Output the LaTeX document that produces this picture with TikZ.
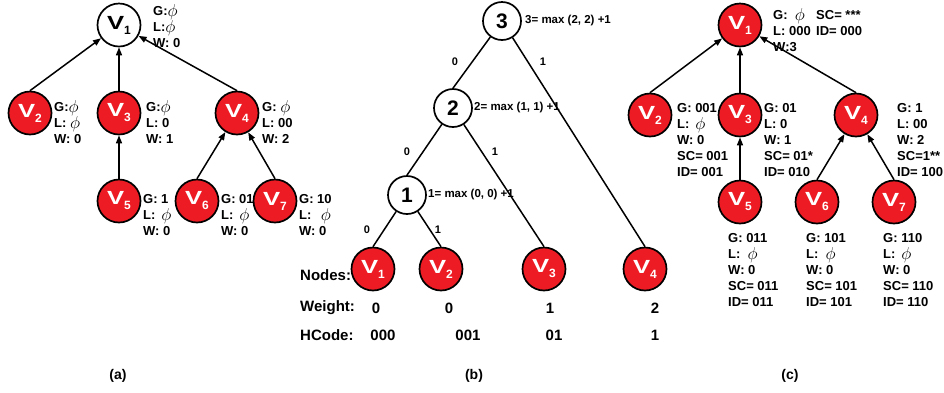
\documentclass[tikz,border=0pt]{standalone}
\usepackage{graphicx}
\usepackage{fontspec}
\setmainfont{Liberation Sans}
\usetikzlibrary{arrows.meta}
\definecolor{vred}{RGB}{237,28,36}
\newcommand{\vn}[1]{\scalebox{1.35}[1]{V}\raisebox{-5pt}{\fontsize{12}{12}\selectfont #1}}
\newcommand{\ph}{\smash{\raisebox{-1pt}{\fontsize{17}{17}\selectfont$\phi$}}}
\begin{document}
\begin{tikzpicture}[x=1pt, y=-1pt,
    vtx/.style={circle, draw, line width=1.7pt, minimum size=43pt, inner sep=0pt, fill=vred, text=white, font=\fontsize{19}{19}\selectfont\bfseries},
    root/.style={vtx, fill=white, text=black},
    num/.style={circle, draw, line width=1.7pt, minimum size=38pt, inner sep=0pt, font=\fontsize{21}{21}\selectfont\bfseries},
    info/.style={anchor=west, align=left, inner sep=0pt, font=\fontsize{13}{16}\selectfont\bfseries},
    eq/.style={anchor=west, inner sep=0pt, font=\fontsize{11.5}{12}\selectfont\bfseries},
    bit/.style={inner sep=0pt, font=\fontsize{11}{11}\selectfont\bfseries},
    row/.style={inner sep=0pt, font=\fontsize{15}{15}\selectfont\bfseries},
    subcap/.style={inner sep=0pt, font=\fontsize{14}{14}\selectfont\bfseries},
    arr/.style={-{Triangle[length=8pt,width=6pt]}, line width=1.5pt},
    tline/.style={line width=1.5pt}]
\useasboundingbox (0,0) rectangle (944,392);
% (a)
\node[root] (a1) at (119,25) {\vn{1}};
\foreach \i/\x/\y in {2/30/113, 3/119/113, 4/237/113, 5/119/201, 6/197/201, 7/275/201}{
    \node[vtx] (a\i) at (\x,\y) {\vn{\i}};
}
\foreach \c/\p in {2/1, 3/1, 4/1, 5/3, 6/4, 7/4}{
    \draw[arr] (a\c.north) -- (a\p);
}
\node[info] (ia1) at (153,27) {G:\ph\\L:\ph\\W: 0};
\node[info] (ia2) at (54,123) {G:\ph\\L: \ph\\W: 0};
\node[info] (ia3) at (146,123) {G:\ph\\L: 0\\W: 1};
\node[info] (ia4) at (262,123) {G: \ph\\L: 00\\W: 2};
\node[info] (ia5) at (143,215) {G: 1\\L: \,\ph\\W: 0};
\node[info] (ia6) at (221,215) {G: 01\\L: \,\ph\\W: 0};
\node[info] (ia7) at (299,215) {G: 10\\L: \ \,\ph\\W: 0};
\node[subcap] (sa) at (118,376) {(a)};
% (b)
\node[row, anchor=west] (nodes) at (300,275) {Nodes:};
\node[row, anchor=west] (weight) at (300,308) {Weight:};
\node[row, anchor=west] (hcode) at (300,335) {HCode:};
\node[num] (b3) at (502,21) {3};
\node[num] (b2) at (453,108) {2};
\node[num] (b1) at (407,195) {1};
\foreach \i/\x in {1/373, 2/441, 3/544, 4/645}{
    \node[vtx] (v\i) at (\x,269) {\vn{\i}};
}
\draw[tline] (b3) -- (b2.north);
\draw[tline] (b3) -- (v4.north);
\draw[tline] (b2) -- (b1.north);
\draw[tline] (b2) -- (v3.north);
\draw[tline] (b1) -- (v1.north);
\draw[tline] (b1) -- (v2.north);
\node[eq] (e3) at (525,21) {3= max (2, 2) +1};
\node[eq] (e2) at (474,108) {2= max (1, 1) +1};
\node[eq] (e1) at (428,195) {1= max (0, 0) +1};
\node[bit] (l32) at (455,62) {0};
\node[bit] (l34) at (543,62) {1};
\node[bit] (l21) at (407,152) {0};
\node[bit] (l23) at (495,152) {1};
\node[bit] (l1a) at (367,230) {0};
\node[bit] (l1b) at (438,230) {1};
\foreach \x/\w [count=\k] in {376/0, 449/0, 550/1, 655/2}{
    \node[row] (w\k) at (\x,308) {\w};
}
\foreach \x/\h [count=\k] in {383/000, 468/001, 554/01, 655/1}{
    \node[row] (h\k) at (\x,335) {\h};
}
\node[subcap] (sb) at (474,376) {(b)};
% (c)
\foreach \i/\x/\y in {1/740/25, 2/650/115, 3/740/115, 4/856/115, 5/740/202, 6/817/202, 7/894/202}{
    \node[vtx] (c\i) at (\x,\y) {\vn{\i}};
}
\foreach \c/\p in {2/1, 3/1, 4/1, 5/3, 6/4, 7/4}{
    \draw[arr] (c\c.north) -- (c\p);
}
\node[info] (ic1) at (773,31) {G: \ \ph\\L: 000\\W:3};
\node[info] (sc1) at (816,23) {SC= ***\\ID= 000};
\node[info] (ic2) at (677,140) {G: 001\\L: \,\ph\\W: 0\\SC= 001\\ID= 001};
\node[info] (ic3) at (764,140) {G: 01\\L: 0\\W: 1\\SC= 01*\\ID= 010};
\node[info] (ic4) at (897,140) {G: 1\\L: 00\\W: 2\\SC=1**\\ID= 100};
\node[info] (ic5) at (728,270) {G: 011\\L: \ \ph\\W: 0\\SC= 011\\ID= 011};
\node[info] (ic6) at (806,270) {G: 101\\L: \ \ph\\W: 0\\SC= 101\\ID= 101};
\node[info] (ic7) at (883,270) {G: 110\\L: \,\ph\\W: 0\\SC= 110\\ID= 110};
\node[subcap] (sc) at (790,376) {(c)};
\end{tikzpicture}
\end{document}
